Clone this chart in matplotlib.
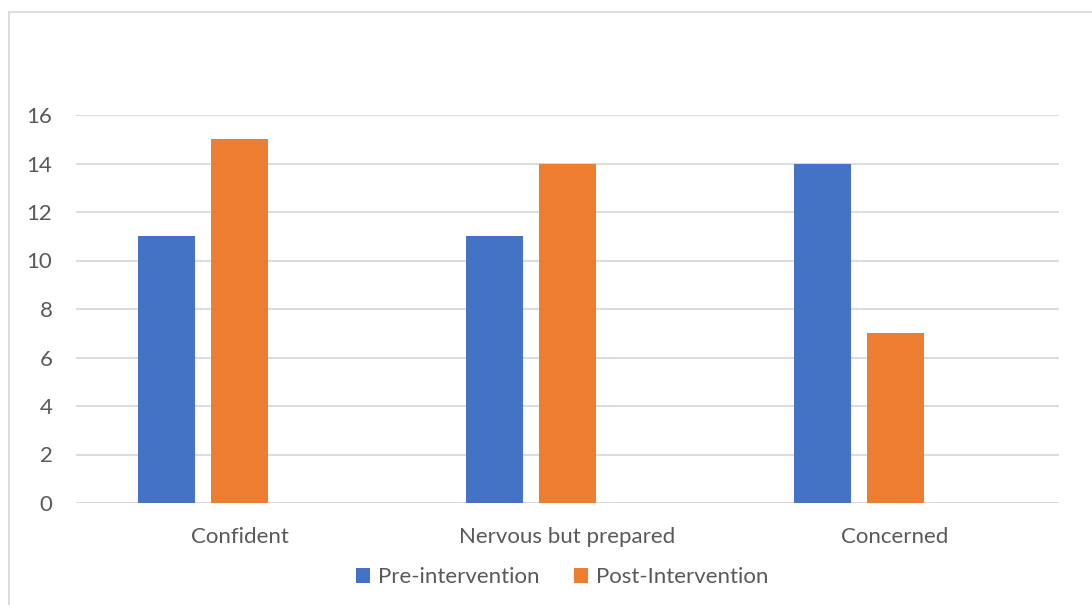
import matplotlib.pyplot as plt
from matplotlib.patches import Rectangle
import numpy as np

categories = ["Confident", "Nervous but prepared", "Concerned"]
pre_values = [11, 11, 14]
post_values = [15, 14, 7]
series_names = ["Pre-intervention", "Post-Intervention"]
y_ticks = [0, 2, 4, 6, 8, 10, 12, 14, 16]

plt.rcParams['font.family'] = ['Lato', 'DejaVu Sans']
text_color = '#595959'
grid_color = '#D9D9D9'
blue = '#4472C4'
orange = '#ED7D31'
fs = 16

W, H = 1092, 605
fig = plt.figure(figsize=(W / 100, H / 100), dpi=100)
ax = fig.add_axes([76 / W, 102 / H, (1059 - 76) / W, 388 / H])

x = np.arange(len(categories))
bar_w = 0.174
offset = 0.223
ax.bar(x - offset, pre_values, width=bar_w, color=blue, label=series_names[0], zorder=3)
ax.bar(x, post_values, width=bar_w, color=orange, label=series_names[1], zorder=3)

ax.set_xlim(-0.5, len(categories) - 0.5)
ax.set_ylim(0, 16)
ax.set_yticks(y_ticks)
ax.set_yticklabels([str(v) for v in y_ticks])
ax.set_xticks(x)
ax.set_xticklabels(categories)
ax.yaxis.grid(True, color=grid_color, linewidth=1.3, zorder=0)
ax.set_axisbelow(True)
for s in ax.spines.values():
    s.set_visible(False)
ax.tick_params(axis='both', length=0, labelsize=fs, colors=text_color)
ax.tick_params(axis='y', pad=17)
ax.tick_params(axis='x', pad=17)

leg = fig.legend(loc='center', bbox_to_anchor=(562 / W, 1 - 577 / H), ncol=2,
                 frameon=False, fontsize=fs, handlelength=0.65, handleheight=0.65,
                 handletextpad=0.35, columnspacing=1.55)
for t in leg.get_texts():
    t.set_color(text_color)

# outer chart frame
fig.patches.append(Rectangle((9 / W, -0.05), 1.2, 1 - 12 / H + 0.05, transform=fig.transFigure,
                             fill=False, edgecolor=grid_color, linewidth=1.3))

fig.savefig('out.png', dpi=100)
